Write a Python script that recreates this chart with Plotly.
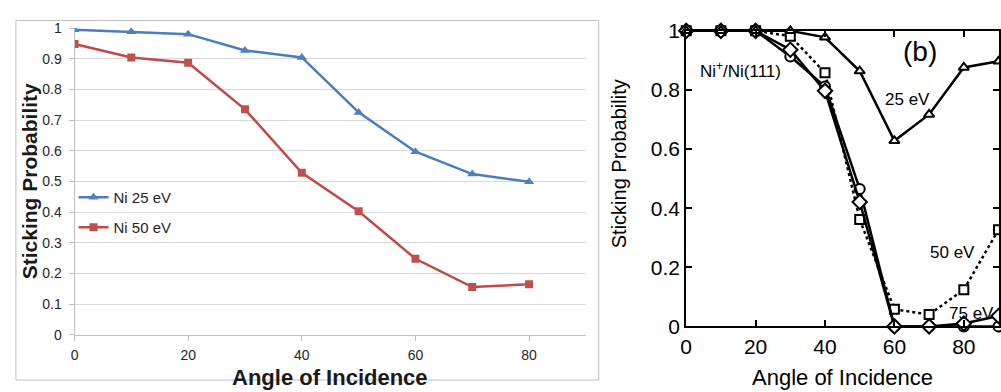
import plotly.graph_objects as go

# ---- Panel (a): Ni sticking probability vs angle ----
angles_a = [0, 10, 20, 30, 40, 50, 60, 70, 80]
ni_25ev = [0.994, 0.988, 0.980, 0.927, 0.904, 0.725, 0.597, 0.524, 0.499]
ni_50ev = [0.948, 0.904, 0.887, 0.735, 0.528, 0.403, 0.248, 0.156, 0.165]

# ---- Panel (b): Ni+/Ni(111) ----
angles_b = [0, 10, 20, 30, 40, 50, 60, 70, 80, 90]
b_25ev = [1.0, 1.0, 1.0, 1.0, 0.978, 0.864, 0.628, 0.717, 0.876, 0.897]
b_50ev = [1.0, 1.0, 1.0, 0.982, 0.858, 0.362, 0.058, 0.040, 0.124, 0.327]
b_75ev = [1.0, 1.0, 1.0, 0.936, 0.797, 0.421, 0.0, 0.0, 0.010, 0.035]
b_circles = [1.0, 1.0, 1.0, 0.913, 0.812, 0.465, 0.0, 0.0, 0.0, 0.0]

y_ticks_a = [0, 0.1, 0.2, 0.3, 0.4, 0.5, 0.6, 0.7, 0.8, 0.9, 1]
x_ticks = [0, 20, 40, 60, 80]
y_ticks_b = [0, 0.2, 0.4, 0.6, 0.8, 1]

W, H = 1001, 392
FONT = "Liberation Sans, Arial, sans-serif"
BLUE = "#4A7EBB"
RED = "#BE4B48"


def px(x):
    return x / W


def py(y):
    return 1 - y / H


fig = go.Figure()

fig.add_trace(go.Scatter(
    x=angles_a, y=ni_25ev, name="Ni 25 eV", mode="lines+markers",
    line=dict(color=BLUE, width=2.5),
    marker=dict(symbol="triangle-up", size=9, color="#4F81BD"),
    xaxis="x", yaxis="y", legend="legend",
))
fig.add_trace(go.Scatter(
    x=angles_a, y=ni_50ev, name="Ni 50 eV", mode="lines+markers",
    line=dict(color=RED, width=2.5),
    marker=dict(symbol="square", size=8, color="#C0504D"),
    xaxis="x", yaxis="y", legend="legend2",
))

open_marker = dict(color="white", line=dict(color="black", width=2))
fig.add_trace(go.Scatter(
    x=angles_b, y=b_50ev, mode="lines+markers", showlegend=False,
    line=dict(color="black", width=2.5, dash="dot"),
    marker=dict(symbol="square", size=9, **open_marker),
    xaxis="x2", yaxis="y2", cliponaxis=False,
))
fig.add_trace(go.Scatter(
    x=angles_b, y=b_circles, mode="lines+markers", showlegend=False,
    line=dict(color="black", width=2.5),
    marker=dict(symbol="circle", size=10, **open_marker),
    xaxis="x2", yaxis="y2", cliponaxis=False,
))
fig.add_trace(go.Scatter(
    x=angles_b, y=b_75ev, mode="lines+markers", showlegend=False,
    line=dict(color="black", width=2.5),
    marker=dict(symbol="diamond", size=11, **open_marker),
    xaxis="x2", yaxis="y2", cliponaxis=False,
))
fig.add_trace(go.Scatter(
    x=angles_b, y=b_25ev, mode="lines+markers", showlegend=False,
    line=dict(color="black", width=2.5),
    marker=dict(symbol="triangle-up", size=9, **open_marker),
    xaxis="x2", yaxis="y2", cliponaxis=False,
))

grid_col = "#D9D9D9"
axis_col = "#BFBFBF"
tick_font_a = dict(family=FONT, size=14, color="#262626")

fig.update_layout(
    width=W, height=H,
    margin=dict(l=0, r=0, t=0, b=0),
    paper_bgcolor="white", plot_bgcolor="white",
    font=dict(family=FONT),
    xaxis=dict(
        domain=[px(69), px(584)], range=[0, 90], tickvals=x_ticks,
        showgrid=False, zeroline=False, showline=True, linecolor=axis_col,
        ticks="outside", ticklen=5, tickcolor=axis_col, tickfont=tick_font_a,
        ticklabelstandoff=2, anchor="y", fixedrange=True,
    ),
    yaxis=dict(
        domain=[py(343), py(17)], range=[0, 1], tickvals=y_ticks_a,
        showgrid=True, gridcolor=grid_col, gridwidth=1, zeroline=False,
        showline=True, linecolor=axis_col, ticks="outside", ticklen=5,
        tickcolor=axis_col, tickfont=tick_font_a, ticklabelstandoff=4,
        anchor="x", fixedrange=True,
    ),
    xaxis2=dict(
        domain=[px(685), px(999.5)], range=[0, 90], tickvals=x_ticks,
        showgrid=False, zeroline=False, showline=True, linecolor="black",
        linewidth=2, mirror="ticks", ticks="inside", ticklen=6, tickwidth=2,
        tickcolor="black", tickfont=dict(family=FONT, size=21, color="black"),
        anchor="y2", fixedrange=True,
    ),
    yaxis2=dict(
        domain=[py(334), py(20)], range=[0, 1], tickvals=y_ticks_b,
        showgrid=False, zeroline=False, showline=True, linecolor="black",
        linewidth=2, mirror="ticks", ticks="inside", ticklen=6, tickwidth=2,
        tickcolor="black", tickfont=dict(family=FONT, size=21, color="black"),
        anchor="x2", fixedrange=True,
    ),
    legend=dict(
        x=px(68), y=py(197), xanchor="left", yanchor="middle",
        bgcolor="rgba(0,0,0,0)", font=dict(family=FONT, size=15, color="#262626"),
    ),
    legend2=dict(
        x=px(68), y=py(229), xanchor="left", yanchor="middle",
        bgcolor="rgba(0,0,0,0)", font=dict(family=FONT, size=15, color="#262626"),
    ),
    shapes=[
        dict(type="rect", xref="paper", yref="paper",
             x0=px(10), x1=px(597), y0=py(391), y1=py(9),
             line=dict(color=axis_col, width=1)),
    ],
)

annotations = [
    dict(text="<b>Sticking Probability</b>", x=px(24), y=py(180), textangle=-90,
         font=dict(size=21, color="#1a1a1a")),
    dict(text="<b>Angle of Incidence</b>", x=px(326), y=py(388),
         font=dict(size=22, color="#1a1a1a")),
    dict(text="Sticking Probability", x=px(617), y=py(161), textangle=-90,
         font=dict(size=20, color="black")),
    dict(text="Angle of Incidence", x=px(842), y=py(388),
         font=dict(size=22, color="black")),
    dict(text="Ni<sup>+</sup>/Ni(111)", x=px(740), y=py(62),
         font=dict(size=17, color="black")),
    dict(text="(b)", x=px(920), y=py(42), font=dict(size=28, color="black")),
    dict(text="25 eV", x=px(908), y=py(93), font=dict(size=17, color="black")),
    dict(text="50 eV", x=px(953), y=py(256), font=dict(size=17, color="black")),
    dict(text="75 eV", x=px(972), y=py(320), font=dict(size=17, color="black")),
]
for a in annotations:
    a.update(xref="paper", yref="paper", showarrow=False,
             xanchor="center", yanchor="middle")
    a["font"]["family"] = FONT
fig.update_layout(annotations=annotations)

fig.write_html("out.html")
